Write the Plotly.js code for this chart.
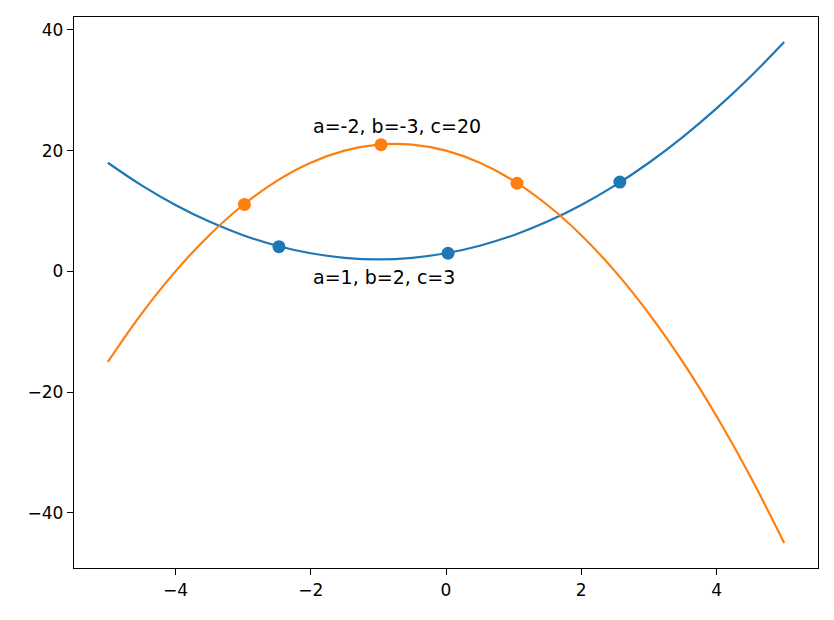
<!DOCTYPE html>
<html>
<head>
<meta charset="utf-8">
<script src="https://cdn.plot.ly/plotly-3.0.1.min.js"></script>
<style>
html,body{margin:0;padding:0;background:#fff;}
#chart{width:834px;height:620px;}
</style>
</head>
<body>
<div id="chart"></div>
<script>
const xs = [-5,-4.5,-4,-3.5,-3,-2.5,-2,-1.5,-1,-0.5,0,0.5,1,1.5,2,2.5,3,3.5,4,4.5,5];
const blueY = [18,14.25,11,8.25,6,4.25,3,2.25,2,2.25,3,4.25,6,8.25,11,14.25,18,22.25,27,32.25,38];
const orangeY = [-15,-7,0,6,11,15,18,20,21,21,20,18,15,11,6,0,-7,-15,-24,-34,-45];
const blueMarkX = [-2.47, 0.03, 2.57];
const blueMarkY = [4.1, 3.0, 14.8];
const orangeMarkX = [-2.98, -0.96, 1.05];
const orangeMarkY = [11.1, 21.0, 14.6];
const labels = ["a=1, b=2, c=3", "a=-2, b=-3, c=20"];
const labelX = [-2, -2];
const labelY = [-1.0, 24.1];

const blue = '#1f77b4', orange = '#ff7f0e';
const traces = [
  {x: xs, y: blueY, mode: 'lines', line: {color: blue, width: 2.2, shape: 'spline'}, hoverinfo: 'skip'},
  {x: xs, y: orangeY, mode: 'lines', line: {color: orange, width: 2.2, shape: 'spline'}, hoverinfo: 'skip'},
  {x: blueMarkX, y: blueMarkY, mode: 'markers', marker: {color: blue, size: 13}},
  {x: orangeMarkX, y: orangeMarkY, mode: 'markers', marker: {color: orange, size: 13}}
];
const font = {family: 'DejaVu Sans', size: 17, color: '#000'};
const annFont = {family: 'DejaVu Sans', size: 19, color: '#000'};
const layout = {
  width: 834, height: 620,
  margin: {l: 74, r: 16, t: 17, b: 52},
  showlegend: false,
  paper_bgcolor: '#fff', plot_bgcolor: '#fff',
  font: font,
  xaxis: {range: [-5.5, 5.5], tickvals: [-4,-2,0,2,4], ticks: 'outside', ticklen: 6, tickcolor: '#000',
          showgrid: false, zeroline: false, showline: true, linecolor: '#000', linewidth: 1.3, mirror: true, tickfont: font},
  yaxis: {range: [-49.15, 42.15], tickvals: [-40,-20,0,20,40], ticks: 'outside', ticklen: 6, tickcolor: '#000',
          showgrid: false, zeroline: false, showline: true, linecolor: '#000', linewidth: 1.3, mirror: true, tickfont: font},
  annotations: labels.map((t, i) => ({x: labelX[i], y: labelY[i], text: t, showarrow: false,
    xanchor: 'left', yanchor: 'middle', font: annFont}))
};
Plotly.newPlot('chart', traces, layout, {displayModeBar: false});
</script>
</body>
</html>
